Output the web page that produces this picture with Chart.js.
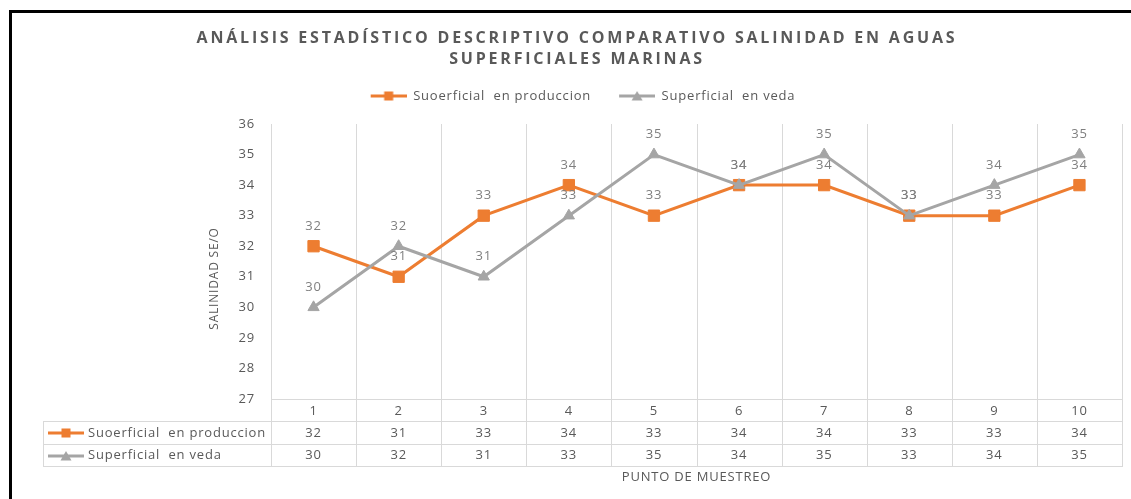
<!DOCTYPE html>
<html><head><meta charset="utf-8">
<script src="https://cdn.jsdelivr.net/npm/chart.js@4.4.1/dist/chart.umd.min.js"></script>
<style>
html,body{margin:0;padding:0;background:#fff;overflow:hidden;}
#wrap{position:relative;width:1131px;height:499px;overflow:hidden;}
#frame{position:absolute;left:9px;top:10px;width:1200px;height:600px;border-left:3px solid #000;border-top:3px solid #000;box-sizing:border-box;pointer-events:none;}
canvas{position:absolute;left:0;top:0;}
</style></head>
<body><div id="wrap"><canvas id="c" width="1131" height="499"></canvas><div id="frame"></div></div>
<script>
// ---- data ----
const titleLines = ['ANÁLISIS ESTADÍSTICO DESCRIPTIVO COMPARATIVO SALINIDAD EN AGUAS', 'SUPERFICIALES MARINAS'];
const categories = ['1', '2', '3', '4', '5', '6', '7', '8', '9', '10'];
const seriesNames = ['Suoerficial  en produccion', 'Superficial  en veda'];
const produccion = [32, 31, 33, 34, 33, 34, 34, 33, 33, 34];
const veda = [30, 32, 31, 33, 35, 34, 35, 33, 34, 35];
const yMin = 27, yMax = 36, yStep = 1;
const yAxisTitle = 'SALINIDAD SE/O';
const xAxisTitle = 'PUNTO DE MUESTREO';

// ---- styles ----
const ORANGE = '#ED7D31', GRAY = '#A5A5A5', TEXT = '#595959', LABEL = '#7F7F7F', GRID = '#D9D9D9';
const FONT = 'Open Sans';
const TEXT_SPACING = '0.8px', TITLE_SPACING = '2.8px';
Chart.defaults.font.family = FONT;

function makeSwatch(color, style, lead) {
  const cv = document.createElement('canvas');
  cv.width = lead + 36; cv.height = 12;
  const g = cv.getContext('2d');
  g.strokeStyle = color; g.lineWidth = 3;
  g.beginPath(); g.moveTo(lead, 6); g.lineTo(lead + 36, 6); g.stroke();
  g.fillStyle = color;
  const cx = lead + 18;
  if (style === 'rect') { g.fillRect(cx - 4.5, 1.5, 9, 9); }
  else { g.beginPath(); g.moveTo(cx, 1); g.lineTo(cx + 5.5, 10.5); g.lineTo(cx - 5.5, 10.5); g.closePath(); g.fill(); }
  return cv;
}
const LEAD = 12;
const legendSwatches = [makeSwatch(ORANGE, 'rect', LEAD), makeSwatch(GRAY, 'triangle', LEAD)];
const tableSwatches = [makeSwatch(ORANGE, 'rect', 0), makeSwatch(GRAY, 'triangle', 0)];

// text spacing for all chart text (the reference text is slightly wide)
const textSpacing = {
  id: 'textSpacing',
  beforeUpdate(chart) { chart.ctx.letterSpacing = TEXT_SPACING; },
  beforeDraw(chart) { chart.ctx.letterSpacing = TEXT_SPACING; }
};

// spacer between legend and plot
const legendGap = {
  id: 'legendGap',
  beforeInit(chart) {
    const box = {
      position: 'top', weight: 900, fullSize: true, options: {},
      left: 0, top: 0, right: 0, bottom: 0, width: 0, height: 0,
      isHorizontal() { return true; },
      update(maxWidth) { this.width = maxWidth; this.height = 11.5; },
      draw() {}
    };
    Chart.layouts.addBox(chart, box);
  }
};

function hline(ctx, x1, x2, y) { y = Math.round(y) + 0.5; ctx.beginPath(); ctx.moveTo(Math.round(x1), y); ctx.lineTo(Math.round(x2) + 1, y); ctx.stroke(); }
function vline(ctx, x, y1, y2) { x = Math.round(x) + 0.5; ctx.beginPath(); ctx.moveTo(x, Math.round(y1)); ctx.lineTo(x, Math.round(y2) + 1); ctx.stroke(); }

const ROW = [22, 45, 67];
const TABLE_HEAD = 228;

const tableGrid = {
  id: 'tableGrid',
  beforeDatasetsDraw(chart) {
    const {ctx, chartArea: ca, scales: {x}} = chart;
    const n = categories.length;
    const w = x.getPixelForValue(1) - x.getPixelForValue(0);
    const left = ca.left - TABLE_HEAD;
    const yb = ca.bottom;
    ctx.save();
    ctx.strokeStyle = GRID; ctx.lineWidth = 1;
    hline(ctx, ca.left, ca.right, yb);
    ROW.forEach(r => hline(ctx, left, ca.right, yb + r));
    for (let k = 0; k <= n; k++) {
      const xx = k < n ? x.getPixelForValue(k) - w / 2 : x.getPixelForValue(n - 1) + w / 2;
      vline(ctx, xx, ca.top, yb + ROW[2]);
    }
    vline(ctx, left, yb + ROW[0], yb + ROW[2]);
    ctx.restore();
  },
  afterDraw(chart) {
    const {ctx, chartArea: ca, scales: {x}} = chart;
    const left = ca.left - TABLE_HEAD;
    const yb = ca.bottom;
    const rows = [produccion, veda];
    ctx.save();
    ctx.font = '13px "' + FONT + '"';
    ctx.fillStyle = TEXT;
    ctx.textBaseline = 'middle';
    rows.forEach((vals, r) => {
      const yc = yb + (ROW[r] + ROW[r + 1]) / 2 + 0.5;
      ctx.drawImage(tableSwatches[r], left + 5, Math.round(yc - 6));
      ctx.textAlign = 'left';
      ctx.fillText(seriesNames[r], left + 45, yc);
      ctx.textAlign = 'center';
      vals.forEach((v, i) => ctx.fillText(String(v), x.getPixelForValue(i), yc));
    });
    // y axis title
    ctx.save();
    ctx.font = '12px "' + FONT + '"';
    ctx.translate(ca.left - 56, (ca.top + ca.bottom) / 2 + 17);
    ctx.rotate(-Math.PI / 2);
    ctx.textAlign = 'center';
    ctx.fillText(yAxisTitle, 0, 0);
    ctx.restore();
    ctx.restore();
  }
};

const pointLabels = {
  id: 'pointLabels',
  afterDatasetsDraw(chart) {
    const ctx = chart.ctx;
    ctx.save();
    ctx.font = '13px "' + FONT + '"';
    ctx.fillStyle = LABEL;
    ctx.textAlign = 'center';
    ctx.textBaseline = 'middle';
    chart.data.datasets.forEach((ds, i) => {
      chart.getDatasetMeta(i).data.forEach((pt, j) => ctx.fillText(String(ds.data[j]), pt.x, pt.y - 20));
    });
    ctx.restore();
  }
};

const chart = new Chart(document.getElementById('c'), {
  type: 'line',
  data: {
    labels: categories,
    datasets: [
      { label: seriesNames[0], data: produccion, borderColor: ORANGE, backgroundColor: ORANGE,
        borderWidth: 3, pointStyle: 'rect', pointRadius: 8, pointBorderWidth: 1,
        pointBackgroundColor: ORANGE, pointBorderColor: ORANGE, tension: 0, order: 1 },
      { label: seriesNames[1], data: veda, borderColor: GRAY, backgroundColor: GRAY,
        borderWidth: 3, pointStyle: 'triangle', pointRadius: 6.5, pointBorderWidth: 1,
        pointBackgroundColor: GRAY, pointBorderColor: GRAY, tension: 0, order: 0 }
    ]
  },
  options: {
    responsive: false,
    animation: false,
    events: [],
    layout: { padding: { left: 30, right: 7, top: 14, bottom: 0 } },
    plugins: {
      tooltip: { enabled: false },
      title: {
        display: true, text: titleLines, color: TEXT,
        font: { family: FONT, size: 16, weight: '700', lineHeight: 1.3125 },
        padding: { top: 13.5, bottom: 4 }
      },
      legend: {
        position: 'top', align: 'center',
        labels: {
          usePointStyle: true, pointStyleWidth: LEAD + 36, padding: 16, color: TEXT,
          font: { family: FONT, size: 13 },
          generateLabels(ch) {
            return ch.data.datasets.map((ds, i) => ({
              text: ds.label, fillStyle: ds.borderColor, strokeStyle: ds.borderColor, lineWidth: 0,
              hidden: false, pointStyle: legendSwatches[i], datasetIndex: i, fontColor: TEXT
            }));
          }
        }
      }
    },
    scales: {
      x: {
        type: 'category', offset: true,
        grid: { display: false }, border: { display: false },
        ticks: { padding: -4, color: TEXT, font: { family: FONT, size: 13 }, maxRotation: 0, autoSkip: false },
        title: { display: true, text: xAxisTitle, color: TEXT, font: { family: FONT, size: 13 }, padding: { top: 0, bottom: 14 } },
        afterFit(s) { s.height = 100; }
      },
      y: {
        min: yMin, max: yMax,
        grid: { display: false }, border: { display: false },
        ticks: { stepSize: yStep, padding: 8, color: TEXT, font: { family: FONT, size: 13 } },
        afterFit(s) { s.width = 241; }
      }
    }
  },
  plugins: [textSpacing, legendGap, tableGrid, pointLabels]
});

// letter-spaced title, as in the original
const tb = chart.titleBlock;
const origTitleDraw = tb.draw;
tb.draw = function (...a) {
  const c = this.ctx; c.save(); c.letterSpacing = TITLE_SPACING; origTitleDraw.apply(this, a); c.restore();
};
chart.draw();
</script>
</body></html>
